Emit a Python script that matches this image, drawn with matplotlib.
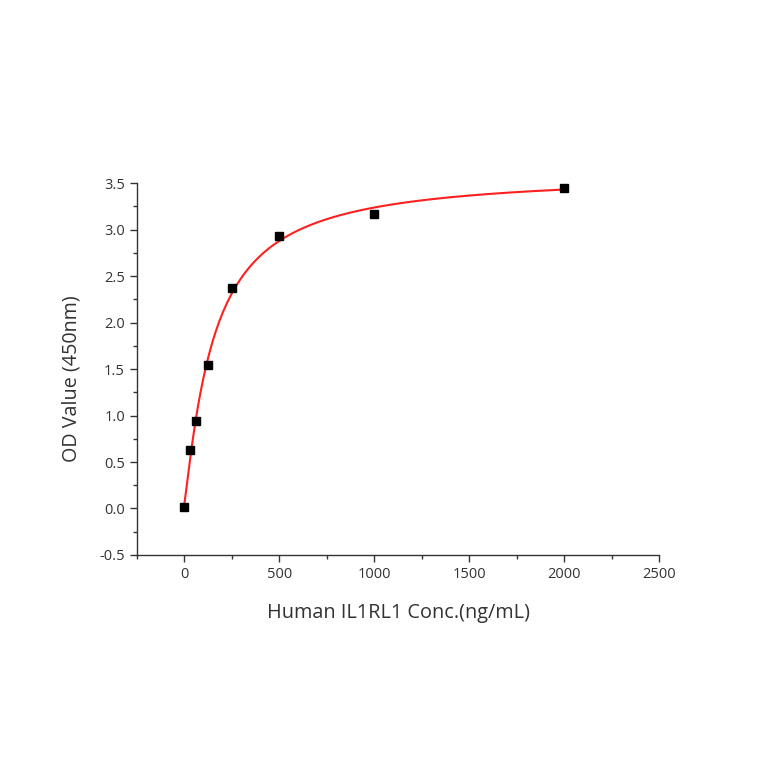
import numpy as np
import matplotlib
matplotlib.use('Agg')
import matplotlib.pyplot as plt
from matplotlib.ticker import MultipleLocator

# standard points
conc = np.array([0, 31.25, 62.5, 125, 250, 500, 1000, 2000])
od = np.array([0.02, 0.63, 0.94, 1.54, 2.37, 2.93, 3.17, 3.45])


def fit_4pl(x, y):
    # grid over slope and mid point, A and D solved linearly
    best = None
    for B in np.linspace(0.6, 2.0, 141):
        for C in np.linspace(50, 600, 551):
            g = 1.0 / (1.0 + (x / C) ** B)
            M = np.column_stack([g, 1 - g])
            coef, res, _, _ = np.linalg.lstsq(M, y, rcond=None)
            err = np.sum((M @ coef - y) ** 2)
            if best is None or err < best[0]:
                best = (err, coef[0], B, C, coef[1])
    return best[1:]


A, B, C, D = fit_4pl(conc, od)
xs = np.linspace(0, 2000, 600)
ys = D + (A - D) / (1 + (xs / C) ** B)

plt.rcParams['font.family'] = ['Open Sans', 'DejaVu Sans']

fig = plt.figure(figsize=(7.64, 7.64), dpi=100)
ax = fig.add_axes([0.179, 0.2736, 0.684, 0.4866])

ax.plot(xs, ys, color='#ff2020', lw=1.5, zorder=2)
ax.plot(conc, od, 's', color='black', ms=6.3, zorder=3)

ax.set_xlim(-250, 2500)
ax.set_ylim(-0.5, 3.5)
ax.xaxis.set_major_locator(MultipleLocator(500))
ax.xaxis.set_minor_locator(MultipleLocator(250))
ax.yaxis.set_major_locator(MultipleLocator(0.5))
ax.yaxis.set_minor_locator(MultipleLocator(0.25))
ax.yaxis.set_major_formatter(plt.FormatStrFormatter('%.1f'))

for s in ['top', 'right']:
    ax.spines[s].set_visible(False)
for s in ['left', 'bottom']:
    ax.spines[s].set_color('#333333')
    ax.spines[s].set_linewidth(1.0)

ax.tick_params(which='major', direction='out', length=5, width=1, colors='#333333', labelsize=10.5)
ax.tick_params(which='minor', direction='out', length=3, width=1, colors='#333333')

ax.set_xlabel('Human IL1RL1 Conc.(ng/mL)', fontsize=14.3, color='#333333', labelpad=15)
ax.set_ylabel('OD Value (450nm)', fontsize=14.2, color='#333333')
ax.yaxis.set_label_coords(-0.105, 0.475)

fig.savefig('out.png', dpi=100)
